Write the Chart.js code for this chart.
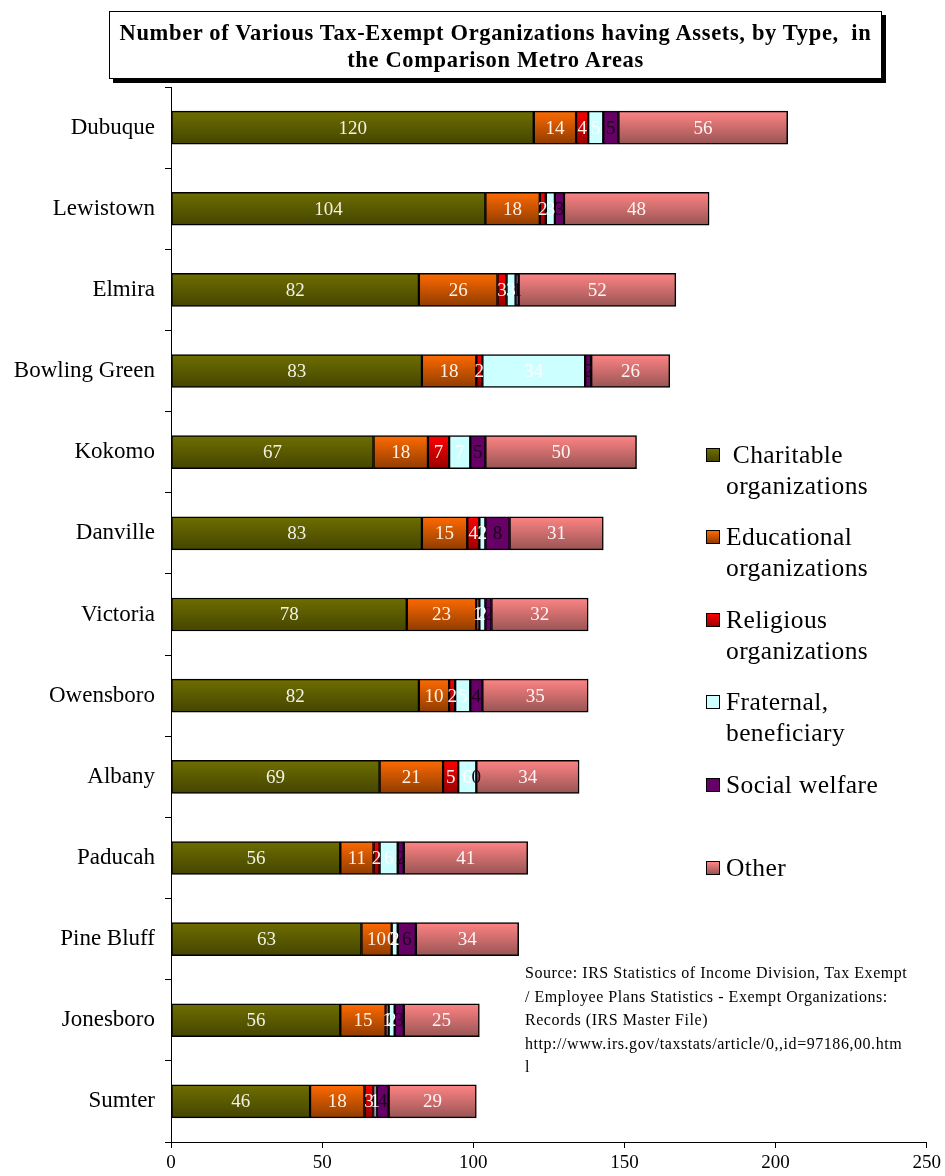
<!DOCTYPE html>
<html>
<head>
<meta charset="utf-8">
<script src="https://cdn.jsdelivr.net/npm/chart.js@4.4.1/dist/chart.umd.min.js"></script>
<style>
  html, body { margin: 0; padding: 0; background: #fff; }
  #wrap { position: relative; width: 945px; height: 1176px; font-family: "Liberation Serif", "DejaVu Serif", serif; }
  #c { position: absolute; left: 0; top: 0; }
  #title {
    position: absolute; left: 109px; top: 11px; width: 773px; height: 68px;
    border: 1px solid #000; background: #fff; box-shadow: 4px 4px 0 #000;
    font-weight: bold; font-size: 22.5px; letter-spacing: 0.65px; line-height: 27px; text-align: center;
    box-sizing: border-box; padding-top: 7px; color: #000; white-space: nowrap;
  }
  .leg { position: absolute; left: 706px; font-size: 25.5px; letter-spacing: 0.4px; line-height: 31px; color: #000; }
  .leg .sw { position: absolute; left: 0; top: 9px; width: 14px; height: 14px; border: 1px solid #000; box-sizing: border-box; }
  .leg .tx { margin-left: 20px; white-space: nowrap; }
  #src { position: absolute; left: 525px; top: 961px; font-size: 16px; letter-spacing: 0.55px; line-height: 23.5px; color: #000; white-space: nowrap; }
</style>
</head>
<body>
<div id="wrap">
  <canvas id="c" width="945" height="1176"></canvas>
  <div id="title">Number of Various Tax-Exempt Organizations having Assets, by Type,&nbsp; in<br>the Comparison Metro Areas</div>
  <div id="legend"></div>
  <div id="src">Source: IRS Statistics of Income Division, Tax Exempt<br>/ Employee Plans Statistics - Exempt Organizations:<br>Records (IRS Master File)<br>http://www.irs.gov/taxstats/article/0,,id=97186,00.htm<br>l</div>
</div>
<script>
// Metro areas, top to bottom
const categories = ['Dubuque', 'Lewistown', 'Elmira', 'Bowling Green', 'Kokomo', 'Danville',
  'Victoria', 'Owensboro', 'Albany', 'Paducah', 'Pine Bluff', 'Jonesboro', 'Sumter'];

// Counts of organizations with assets, by type
const charitable  = [120, 104, 82, 83, 67, 83, 78, 82, 69, 56, 63, 56, 46];
const educational = [14, 18, 26, 18, 18, 15, 23, 10, 21, 11, 10, 15, 18];
const religious   = [4, 2, 3, 2, 7, 4, 1, 2, 5, 2, 0, 1, 3];
const fraternal   = [5, 3, 3, 34, 7, 2, 2, 5, 6, 6, 2, 2, 1];
const social      = [5, 3, 1, 2, 5, 8, 2, 4, 0, 2, 6, 3, 4];
const other       = [56, 48, 52, 26, 50, 31, 32, 35, 34, 41, 34, 25, 29];

const seriesNames = ['Charitable organizations', 'Educational organizations', 'Religious organizations',
  'Fraternal, beneficiary', 'Social welfare', 'Other'];
const legendLines = [['\u00a0Charitable', 'organizations'], ['Educational', 'organizations'],
  ['Religious', 'organizations'], ['Fraternal,', 'beneficiary'], ['Social welfare'], ['Other']];
const xTicks = [0, 50, 100, 150, 200, 250];

// top / bottom shade of each series (bars fade darker toward the bottom)
const shades = [
  ['#6e6e00', '#454500'],
  ['#ff6a00', '#8f3c00'],
  ['#ff0000', '#990000'],
  ['#ccffff', '#ccffff'],
  ['#660066', '#660066'],
  ['#ff8484', '#985454']
];
const labelColors = ['#f2f2e6', '#fff3e6', '#fff0f0', '#ffffff', '#1a001a', '#fff4f4'];
const BAR_H = 33;

function shadeFor(i) {
  return function (ctx) {
    const chart = ctx.chart;
    const y = chart.scales && chart.scales.y;
    if (!chart.chartArea || !y || ctx.dataIndex === undefined) return shades[i][0];
    const cy = y.getPixelForValue(ctx.dataIndex);
    const g = chart.ctx.createLinearGradient(0, cy - BAR_H / 2, 0, cy + BAR_H / 2);
    g.addColorStop(0, shades[i][0]);
    g.addColorStop(1, shades[i][1]);
    return g;
  };
}

const values = [charitable, educational, religious, fraternal, social, other];

// writes each segment's count at its centre
const segmentLabels = {
  id: 'segmentLabels',
  afterDatasetsDraw(chart) {
    const c = chart.ctx;
    c.save();
    c.font = '19px "Liberation Serif", serif';
    c.textAlign = 'center';
    c.textBaseline = 'middle';
    chart.data.datasets.forEach((ds, di) => {
      const meta = chart.getDatasetMeta(di);
      c.fillStyle = labelColors[di];
      meta.data.forEach((el, i) => {
        const x = (el.x + el.base) / 2;
        c.fillText(String(ds.data[i]), x, el.y + 1);
      });
    });
    c.restore();
  }
};

new Chart(document.getElementById('c'), {
  type: 'bar',
  data: {
    labels: categories,
    datasets: values.map((v, i) => ({
      label: seriesNames[i],
      data: v,
      backgroundColor: shadeFor(i),
      borderColor: '#000',
      borderWidth: 1.5,
      borderSkipped: false,
      barThickness: BAR_H
    }))
  },
  options: {
    indexAxis: 'y',
    responsive: false,
    animation: false,
    layout: { padding: { left: 0, right: 15, top: 87, bottom: 0 } },
    plugins: { legend: { display: false }, tooltip: { enabled: false } },
    scales: {
      x: {
        stacked: true,
        min: 0, max: 250,
        afterBuildTicks(s) { s.ticks = xTicks.map(v => ({ value: v })); },
        afterFit(s) { s.height = 34; },
        border: { color: '#000', width: 1 },
        grid: { drawOnChartArea: false, drawTicks: true, tickLength: 6, color: '#000' },
        ticks: { color: '#000', padding: 4, font: { family: '"Liberation Serif", serif', size: 19 } }
      },
      y: {
        stacked: true,
        afterFit(s) { s.width = 171; },
        border: { color: '#000', width: 1 },
        grid: { drawOnChartArea: false, drawTicks: true, tickLength: 6, color: '#000', offset: true },
        ticks: { color: '#000', padding: 10, font: { family: '"Liberation Serif", serif', size: 23 } }
      }
    }
  },
  plugins: [segmentLabels]
});

// legend on the right of the bars
const legTops = [439, 521, 604, 686, 769, 852];
const legend = document.getElementById('legend');
seriesNames.forEach((name, i) => {
  const d = document.createElement('div');
  d.className = 'leg';
  d.style.top = legTops[i] + 'px';
  const sw = document.createElement('div');
  sw.className = 'sw';
  sw.style.background = i === 3 || i === 4 ? shades[i][0] :
    'linear-gradient(' + shades[i][0] + ',' + shades[i][1] + ')';
  d.appendChild(sw);
  legendLines[i].forEach(line => {
    const t = document.createElement('div');
    t.className = 'tx';
    t.textContent = line;
    d.appendChild(t);
  });
  legend.appendChild(d);
});
</script>
</body>
</html>
